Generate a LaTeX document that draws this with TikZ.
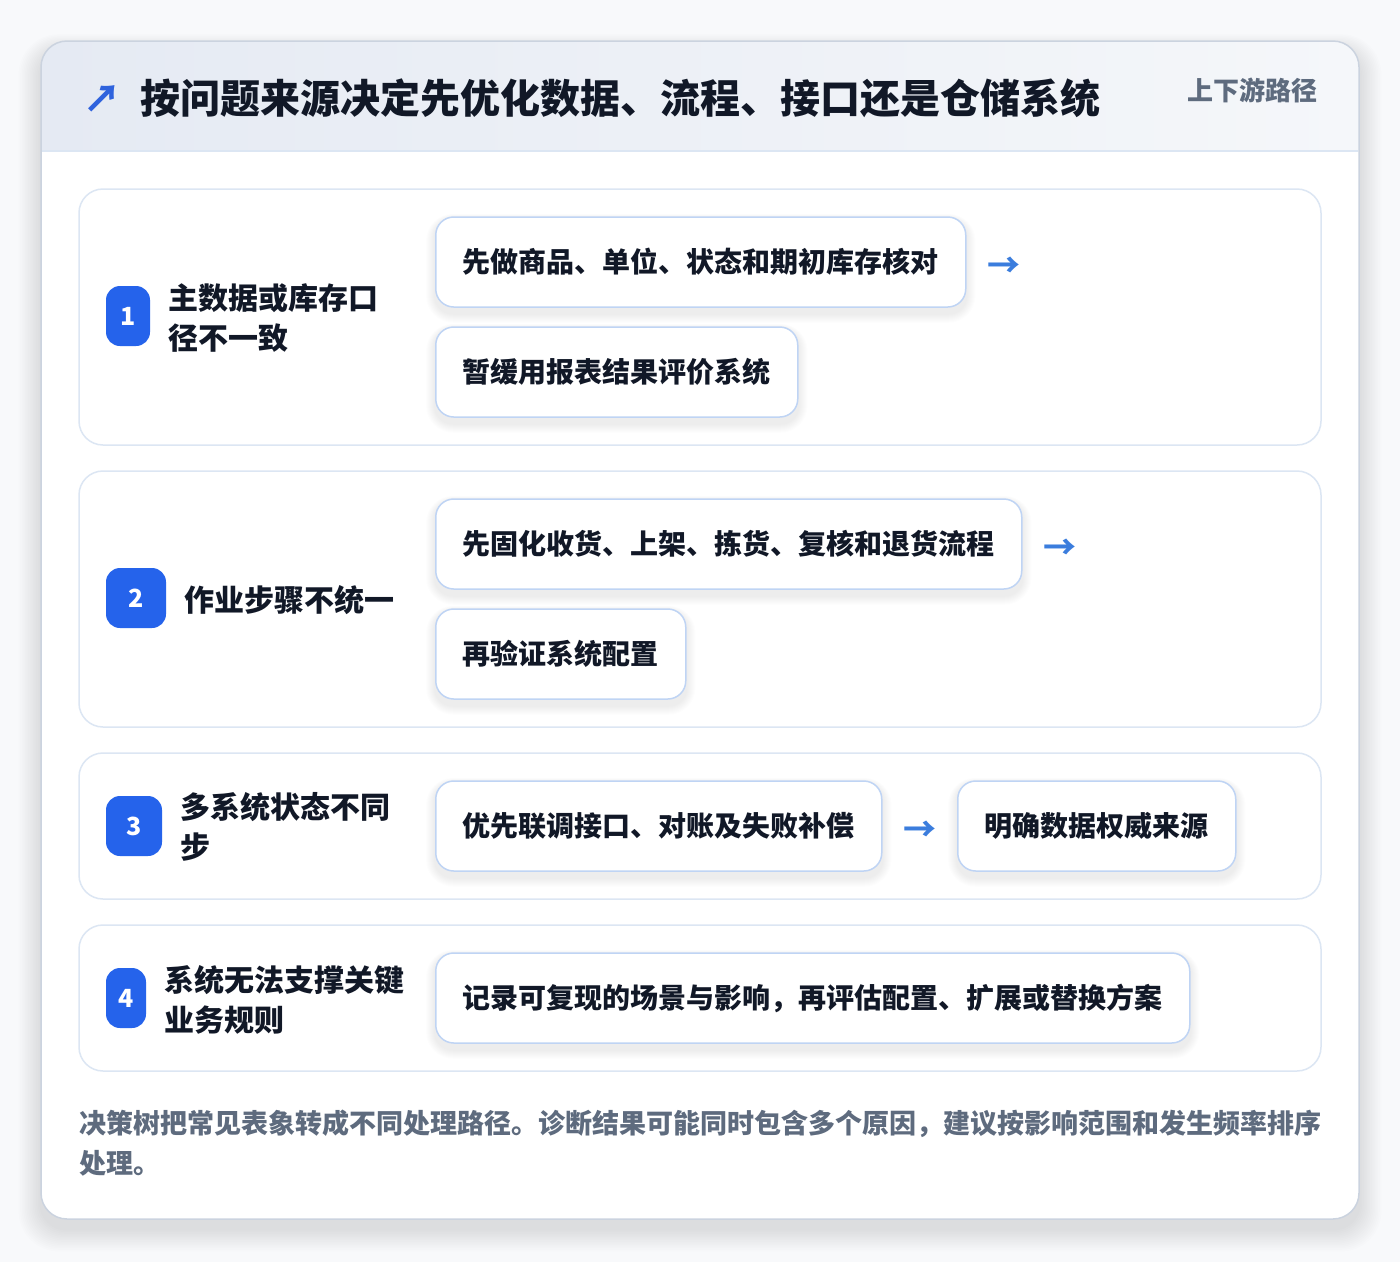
\documentclass[tikz,border=0pt]{standalone}
\usepackage{fontspec}
\setmainfont{Noto Sans CJK SC}

\definecolor{inkdark}{HTML}{111827}
\definecolor{inkgray}{HTML}{5E6B7E}
\definecolor{badgeblue}{HTML}{2563EB}
\definecolor{arrowblue}{HTML}{3B7DDD}
\definecolor{titleblue}{HTML}{2F63DD}
\definecolor{panelline}{HTML}{DCE6F3}
\definecolor{boxline}{HTML}{BFD4F4}
\definecolor{cardline}{HTML}{CBD3DF}
\definecolor{headleft}{HTML}{E5EAF3}
\definecolor{headright}{HTML}{F5F7FA}
\definecolor{pagebg}{HTML}{F8F9FB}

\pgfdeclarelayer{back}
\pgfdeclarelayer{soft}
\pgfsetlayers{back,soft,main}

\begin{document}
\begin{tikzpicture}[x=1pt,y=-1pt,
  panel/.style={draw=panelline,line width=1.5pt,fill=white,rounded corners=24pt},
  badge/.style={fill=badgeblue,text=white,rounded corners=14pt,minimum height=60pt,
    inner sep=0pt,font=\fontsize{25}{25}\selectfont\bfseries},
  cause/.style={anchor=west,align=left,text=inkdark,inner sep=0pt,
    font=\fontsize{30}{40}\selectfont\bfseries},
  stepbox/.style={anchor=west,draw=boxline,line width=1.5pt,fill=white,rounded corners=18pt,
    minimum height=90pt,inner xsep=27pt,text=inkdark,font=\fontsize{28}{28}\selectfont\bfseries},
  nextarrow/.style={text=arrowblue,inner sep=0pt,font=\fontsize{33}{33}\selectfont\bfseries},
  notetext/.style={anchor=base west,inner sep=0pt,text=inkgray,font=\fontsize{27}{27}\selectfont\bfseries}]

    \begin{pgfonlayer}{back}
    % page and card
    \fill[pagebg] (0,0) rectangle (1400,1262);
    \foreach \k in {1,...,14}
        \fill[black,opacity=0.006,rounded corners=26pt+\k pt]
            (41-1.6*\k,41+10-1.2*\k) rectangle (1359+1.6*\k,1219+10+1.6*\k);
    \fill[white,rounded corners=26pt] (41,41) rectangle (1359,1219);
    \begin{scope}
        \clip[rounded corners=26pt] (41,41) rectangle (1359,1219);
        \shade[left color=headleft,right color=headright] (41,41) rectangle (1359,151);
    \end{scope}
    \draw[panelline,line width=1.5pt] (42,151) -- (1358,151);
    \draw[cardline,line width=1.5pt,rounded corners=26pt] (41,41) rectangle (1359,1219);

    % row panels
    \draw[panel] (79,189) rectangle (1321,445);
    \draw[panel] (79,471) rectangle (1321,727);
    \draw[panel] (79,753) rectangle (1321,899);
    \draw[panel] (79,925) rectangle (1321,1071);
    \end{pgfonlayer}
    \useasboundingbox (0,0) rectangle (1400,1262);

    % header
    \node[text=titleblue,inner sep=0pt,font=\fontsize{38}{38}\selectfont\bfseries] (icon) at (102,99) {↗};
    \node[anchor=west,inner sep=0pt,text=inkdark,font=\fontsize{40}{40}\selectfont\bfseries] (title) at (140,98)
        {按问题来源决定先优化数据、流程、接口还是仓储系统};
    \node[anchor=east,inner sep=0pt,text=inkgray,font=\fontsize{26}{26}\selectfont\bfseries] (tag) at (1318,90)
        {上下游路径};

    % row 1
    \node[badge,minimum width=44pt] (b1) at (128,316) {1};
    \node[cause] (c1) at (168,318) {主数据或库存口\\径不一致};
    \node[stepbox] (s1a) at (435,262) {先做商品、单位、状态和期初库存核对};
    \node[stepbox] (s1b) at (435,372) {暂缓用报表结果评价系统};
    \node[nextarrow] (a1) at (1004,267) {→};

    % row 2
    \node[badge,minimum width=60pt] (b2) at (136,598) {2};
    \node[cause] (c2) at (184,600) {作业步骤不统一};
    \node[stepbox] (s2a) at (435,544) {先固化收货、上架、拣货、复核和退货流程};
    \node[stepbox] (s2b) at (435,654) {再验证系统配置};
    \node[nextarrow] (a2) at (1060,549) {→};

    % row 3
    \node[badge,minimum width=56pt] (b3) at (134,826) {3};
    \node[cause] (c3) at (180,827) {多系统状态不同\\步};
    \node[stepbox] (s3a) at (435,826) {优先联调接口、对账及失败补偿};
    \node[nextarrow] (a3) at (920,831) {→};
    \node[stepbox] (s3b) at (957,826) {明确数据权威来源};

    % row 4
    \node[badge,minimum width=40pt] (b4) at (126,998) {4};
    \node[cause] (c4) at (164,1000) {系统无法支撑关键\\业务规则};
    \node[stepbox] (s4a) at (435,998) {记录可复现的场景与影响，再评估配置、扩展或替换方案};

    % soft shadows under the step boxes
    \begin{pgfonlayer}{soft}
    \foreach \n in {s1a,s1b,s2a,s2b,s3a,s3b,s4a}
        \foreach \k in {1,...,9}
            \fill[black,opacity=0.006,rounded corners=18pt+\k pt]
                ([xshift=-\k pt,yshift=-3pt+0.6*\k pt]\n.north west)
                rectangle ([xshift=\k pt,yshift=-6pt-\k pt]\n.south east);
    \end{pgfonlayer}

    % footer note
    \node[notetext] (note1) at (79,1133)
        {决策树把常见表象转成不同处理路径。诊断结果可能同时包含多个原因，建议按影响范围和发生频率排序};
    \node[notetext] (note2) at (79,1173) {处理。};
\end{tikzpicture}
\end{document}
